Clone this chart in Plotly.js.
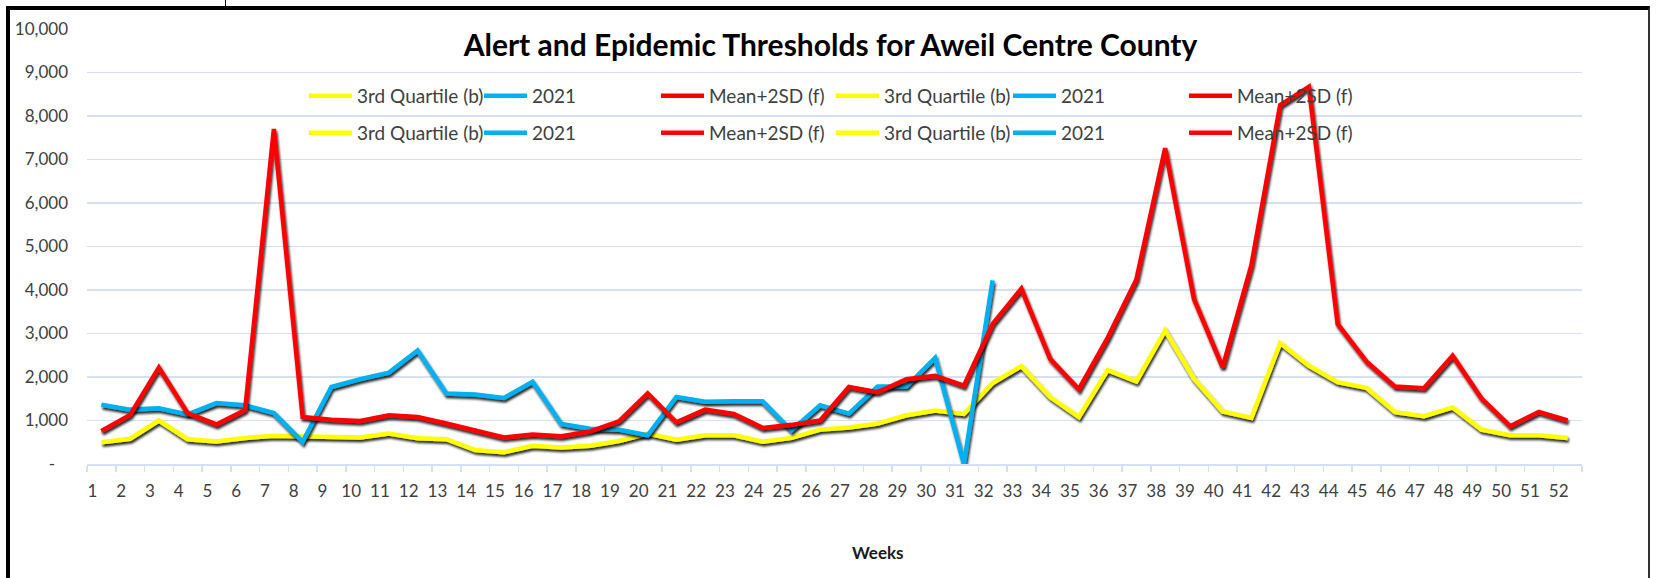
<!DOCTYPE html>
<html>
<head>
<meta charset="utf-8">
<script src="https://cdn.plot.ly/plotly-3.0.1.min.js"></script>
<style>
  html, body { margin: 0; padding: 0; background: #fff; }
  #wrap { position: relative; width: 1656px; height: 578px; overflow: hidden; }
  #chart { position: absolute; left: 0; top: 0; width: 1656px; height: 578px; }
  #frame { position: absolute; left: 6px; top: 6px; width: 1638px; height: 580px;
           border-left: 4px solid #000; border-top: 4px solid #000; border-right: 2px solid #333;
           pointer-events: none; }
  #tick { position: absolute; left: 225px; top: 0; width: 1px; height: 7px; background: #000; }
</style>
</head>
<body>
<div id="wrap">
  <div id="chart"></div>
  <div id="frame"></div>
  <div id="tick"></div>
</div>
<script>
// ---- data ----
const weeks = ['1','2','3','4','5','6','7','8','9','10','11','12','13','14','15','16','17','18','19','20',
  '21','22','23','24','25','26','27','28','29','30','31','32','33','34','35','36','37','38','39','40',
  '41','42','43','44','45','46','47','48','49','50','51','52'];

const thirdQuartile = [500, 580, 1000, 570, 520, 600, 650, 640, 620, 610, 700, 590, 570, 320, 270, 420, 380, 420, 530, 700,
  560, 660, 660, 510, 600, 790, 840, 930, 1120, 1230, 1150, 1860, 2250, 1540, 1080, 2160, 1900, 3070, 1960, 1210,
  1060, 2780, 2260, 1880, 1750, 1190, 1100, 1300, 790, 660, 660, 600];

const weeks2021 = weeks.slice(0, 32);
const cases2021 = [1360, 1250, 1280, 1140, 1400, 1350, 1170, 510, 1770, 1950, 2100, 2610, 1620, 1600, 1520, 1890, 920, 810, 790, 660,
  1540, 1430, 1440, 1440, 770, 1350, 1160, 1780, 1780, 2440, 0, 4220];

const meanPlus2SD = [760, 1130, 2220, 1170, 910, 1240, 7700, 1080, 1020, 990, 1120, 1080, 930, 770, 610, 680, 640, 750, 980, 1620,
  960, 1250, 1150, 830, 900, 1000, 1770, 1650, 1950, 2030, 1800, 3220, 4030, 2420, 1720, 2900, 4240, 7260, 3800, 2220,
  4570, 8250, 8670, 3220, 2360, 1780, 1740, 2490, 1510, 870, 1200, 1000];

const yTickVals = [0, 1000, 2000, 3000, 4000, 5000, 6000, 7000, 8000, 9000, 10000];
const yTickText = ['-\u00a0\u00a0\u00a0', '1,000', '2,000', '3,000', '4,000', '5,000', '6,000', '7,000', '8,000', '9,000', '10,000'];

const seriesNames = ['3rd Quartile (b)', '2021', 'Mean+2SD (f)'];
const seriesColors = ['#FFFF00', '#00B0F0', '#FF0000'];

// ---- layout helpers (pixel geometry of the plot area) ----
const W = 1656, H = 578;
const M = { l: 87, r: 74, t: 29, b: 114 };
const PW = W - M.l - M.r, PH = H - M.t - M.b;
const px2x = p => (p - M.l) / PW;
const px2y = p => (H - M.b - p) / PH;

// legend slots of the reference: 2 rows x 6 entries (the three series repeated)
const legendLineStarts = [309, 484, 661, 836, 1013, 1189];
const legendRows = [96, 133];

const lineW = 4.5;
const traces = [];
const seriesX = [weeks, weeks2021, weeks];
const seriesY = [thirdQuartile, cases2021, meanPlus2SD];
const layoutLegends = {};
let n = 0;
legendRows.forEach(function (rowY) {
  legendLineStarts.forEach(function (lx, col) {
    n += 1;
    const k = col % 3;
    const key = n === 1 ? 'legend' : 'legend' + n;
    const real = n <= 3;
    traces.push({
      x: real ? seriesX[k] : [null], y: real ? seriesY[k] : [null],
      name: seriesNames[k], type: 'scatter', mode: 'lines',
      line: { color: seriesColors[k], width: lineW }, legend: key, hoverinfo: 'skip'
    });
    layoutLegends[key] = {
      x: px2x(lx - 5), y: px2y(rowY), xanchor: 'left', yanchor: 'middle',
      orientation: 'h', itemwidth: 43,
      font: { family: 'Lato', size: 19, color: '#404040' },
      bgcolor: 'rgba(0,0,0,0)', borderwidth: 0, itemclick: false
    };
  });
});

const layout = Object.assign({
  width: W, height: H,
  margin: M,
  paper_bgcolor: '#ffffff', plot_bgcolor: '#ffffff',
  showlegend: true,
  title: {
    text: 'Alert and Epidemic Thresholds for Aweil Centre County',
    font: { family: 'Lato', size: 30, color: '#000000', weight: 'bold' },
    xref: 'container', x: 830.5 / W, xanchor: 'center',
    yref: 'container', y: 1 - 45 / H, yanchor: 'middle'
  },
  xaxis: {
    type: 'category', range: [-0.5, 51.5],
    showgrid: false, zeroline: false,
    showline: true, linecolor: '#d5e1f3', linewidth: 1.5,
    ticks: 'outside', tickson: 'boundaries', ticklen: 6, tickcolor: '#d5e1f3', tickwidth: 1.5,
    ticklabelstandoff: 11, ticklabelshift: -9,
    tickfont: { family: 'Lato', size: 17, color: '#404040' },
    tickangle: 0, fixedrange: true
  },
  yaxis: {
    range: [0, 10000],
    tickvals: yTickVals, ticktext: yTickText,
    showgrid: true, gridcolor: '#d5e1f3', gridwidth: 1.5,
    zeroline: false, showline: false, ticks: '',
    ticklabelstandoff: 18,
    tickfont: { family: 'Lato', size: 17, color: '#404040' },
    fixedrange: true
  },
  annotations: [{
    text: 'Weeks', xref: 'paper', yref: 'paper', x: px2x(878), y: px2y(552),
    xanchor: 'center', yanchor: 'middle', showarrow: false,
    font: { family: 'Lato', size: 17, color: '#1a1a1a', weight: 'bold' }
  }]
}, layoutLegends);

const gd = document.getElementById('chart');
Plotly.newPlot(gd, traces, layout, { staticPlot: true, displayModeBar: false }).then(function () {
  const NS = 'http://www.w3.org/2000/svg';
  const svg = gd.querySelector('svg.main-svg');
  const defs = svg.querySelector('defs');
  const f = document.createElementNS(NS, 'filter');
  f.setAttribute('id', 'lineShadow');
  f.setAttribute('x', '-5%'); f.setAttribute('y', '-20%');
  f.setAttribute('width', '110%'); f.setAttribute('height', '140%');
  const ds = document.createElementNS(NS, 'feDropShadow');
  ds.setAttribute('dx', '1.2'); ds.setAttribute('dy', '2.5');
  ds.setAttribute('stdDeviation', '1.3');
  ds.setAttribute('flood-color', '#000'); ds.setAttribute('flood-opacity', '0.85');
  f.appendChild(ds);
  defs.appendChild(f);
  gd.querySelectorAll('.scatterlayer .trace .js-line').forEach(function (p) {
    p.setAttribute('filter', 'url(#lineShadow)');
  });
});
</script>
</body>
</html>
